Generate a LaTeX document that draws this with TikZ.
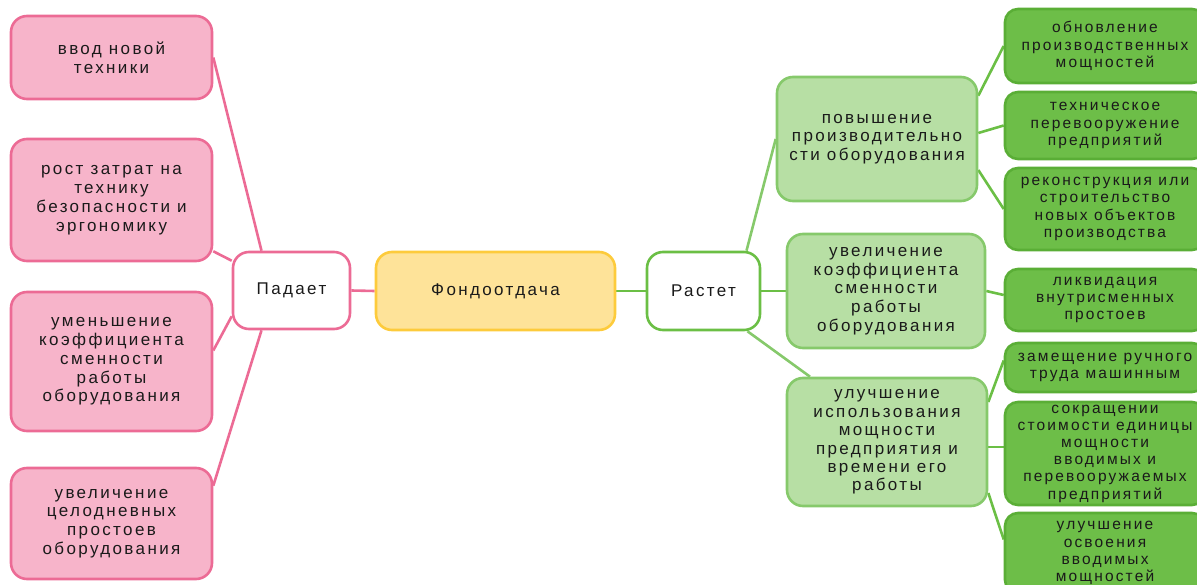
\documentclass[tikz,border=0pt]{standalone}
\usepackage{fontspec}
\setmainfont[LetterSpace=14]{Liberation Sans}
\usetikzlibrary{backgrounds}
\definecolor{pinkfill}{HTML}{F7B4CA}
\definecolor{pinkline}{HTML}{EC6B95}
\definecolor{yelfill}{HTML}{FEE399}
\definecolor{yelline}{HTML}{FDCB3C}
\definecolor{lgfill}{HTML}{B7DFA4}
\definecolor{lgline}{HTML}{86C96B}
\definecolor{dgfill}{HTML}{6DBE48}
\definecolor{dgline}{HTML}{5AAE36}
\definecolor{gline}{HTML}{6BBF45}
\definecolor{txt}{HTML}{1A1A1A}
\tikzset{
  box/.style={rectangle, rounded corners=16pt, line width=2.6pt, align=center, inner sep=2pt,
    text=txt, font=\fontsize{17}{18.8}\selectfont},
  pinkbox/.style={box, draw=pinkline, fill=pinkfill},
  padbox/.style={box, draw=pinkline, fill=white},
  yelbox/.style={box, draw=yelline, fill=yelfill},
  rastbox/.style={box, draw=gline, fill=white},
  lgbox/.style={box, draw=lgline, fill=lgfill},
  dgbox/.style={box, draw=dgline, fill=dgfill, rounded corners=13pt, font=\fontsize{15.5}{17.2}\selectfont},
  pinkcon/.style={draw=pinkline, line width=2.6pt},
  lgcon/.style={draw=lgline, line width=2.6pt},
  gcon/.style={draw=gline, line width=2.6pt},
}
\begin{document}
\begin{tikzpicture}[x=1pt, y=-1pt]
\useasboundingbox (0,0) rectangle (1197,585);
% left
\node[pinkbox, minimum width=201pt, minimum height=83pt] (L1) at (111.5,57.5) {ввод новой\\техники};
\node[pinkbox, minimum width=201pt, minimum height=122pt] (L2) at (111.5,200) {рост затрат на\\технику\\безопасности и\\эргономику};
\node[pinkbox, minimum width=201pt, minimum height=139pt] (L3) at (111.5,361.5) {уменьшение\\коэффициента\\сменности\\работы\\оборудования};
\node[pinkbox, minimum width=201pt, minimum height=111pt] (L4) at (111.5,523.5) {увеличение\\целодневных\\простоев\\оборудования};
\node[padbox, minimum width=117pt, minimum height=77pt] (P) at (291.5,290.5) {Падает};
\node[yelbox, minimum width=239pt, minimum height=78pt] (F) at (495.5,291) {Фондоотдача};
\node[rastbox, minimum width=113pt, minimum height=78pt] (R) at (703.5,291) {Растет};
% middle right
\node[lgbox, minimum width=200pt, minimum height=124pt] (M1) at (877,139) {повышение\\производительно\\сти оборудования};
\node[lgbox, minimum width=198pt, minimum height=114pt] (M2) at (886,291) {увеличение\\коэффициента\\сменности\\работы\\оборудования};
\node[lgbox, minimum width=200pt, minimum height=128pt, font=\fontsize{17}{18.4}\selectfont] (M3) at (887,442) {улучшение\\использования\\мощности\\предприятия и\\времени его\\работы};
% far right
\node[dgbox, minimum width=200pt, minimum height=74pt] (G1) at (1105,46) {обновление\\производственных\\мощностей};
\node[dgbox, minimum width=200pt, minimum height=67pt] (G2) at (1105,125.5) {техническое\\перевооружение\\предприятий};
\node[dgbox, minimum width=200pt, minimum height=82pt] (G3) at (1105,209) {реконструкция или\\строительство\\новых объектов\\производства};
\node[dgbox, minimum width=200pt, minimum height=62pt] (G4) at (1105,300) {ликвидация\\внутрисменных\\простоев};
\node[dgbox, minimum width=200pt, minimum height=49pt] (G5) at (1105,367.5) {замещение ручного\\труда машинным};
\node[dgbox, minimum width=200pt, minimum height=103pt] (G6) at (1105,453.5) {сокращении\\стоимости единицы\\мощности\\вводимых и\\перевооружаемых\\предприятий};
\node[dgbox, minimum width=200pt, minimum height=80pt] (G7) at (1105,553) {улучшение\\освоения\\вводимых\\мощностей};
% connectors
\begin{scope}[on background layer]
\draw[pinkcon] (L1.east) -- ([xshift=-30pt]P.north);
\draw[pinkcon] ([yshift=11pt]L2.south east) -- ([yshift=-10pt]P.north west);
\draw[pinkcon] ([yshift=11pt]L3.east) -- ([yshift=14pt]P.south west);
\draw[pinkcon] ([yshift=-19pt]L4.north east) -- ([xshift=-30pt]P.south);
\draw[pinkcon] (P.east) -- (F.west);
\draw[gcon] (F.east) -- (R.west);
\draw[lgcon] ([xshift=43pt]R.north) -- (M1.west);
\draw[gcon] (R.east) -- (M2.west);
\draw[lgcon] ([xshift=44pt]R.south) -- ([xshift=-77pt]M3.north);
\draw[gcon] ([yshift=-20pt]M1.north east) -- (G1.west);
\draw[gcon] ([yshift=6pt]M1.east) -- (G2.west);
\draw[gcon] ([yshift=-31pt]M1.east) -- (G3.west);
\draw[gcon] (M2.east) -- ([yshift=5pt]G4.west);
\draw[gcon] ([yshift=40pt]M3.east) -- ([yshift=7pt]G5.west);
\draw[gcon] ([yshift=-5pt]M3.east) -- ([yshift=6.5pt]G6.west);
\draw[gcon] ([yshift=-51pt]M3.east) -- ([yshift=13.5pt]G7.west);
\end{scope}
\end{tikzpicture}
\end{document}
